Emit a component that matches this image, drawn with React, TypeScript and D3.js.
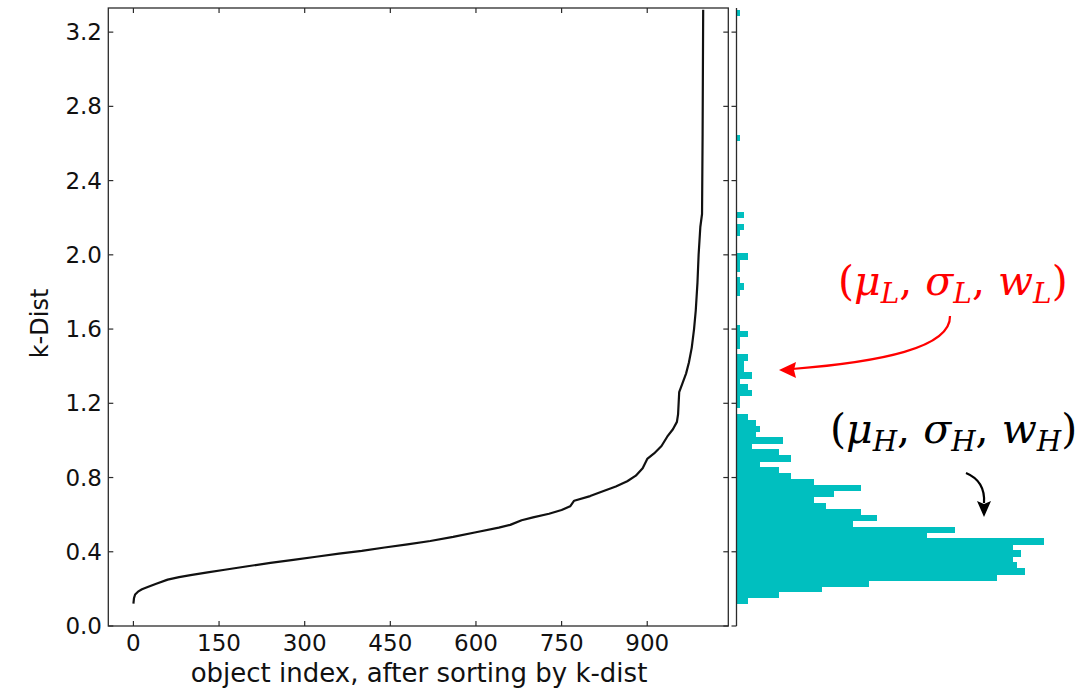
import React from "react";
import * as d3 from "d3";

// ---- data ----
const CURVE_INDEX = [0, 1, 3, 8, 15, 25, 40, 60, 80, 100, 130, 160, 200, 240, 280, 320, 360, 400, 440, 480, 520, 560, 600, 640, 660, 680, 700, 728, 750, 765, 772, 800, 820, 845, 865, 880, 892, 900, 912, 925, 935, 945, 952, 954, 956, 962, 968, 973, 978, 982, 985, 988, 990, 993, 996, 997, 998];
const CURVE_KDIST = [0.12, 0.15, 0.17, 0.185, 0.198, 0.21, 0.228, 0.25, 0.263, 0.274, 0.289, 0.303, 0.322, 0.34, 0.356, 0.373, 0.39, 0.405, 0.423, 0.44, 0.458, 0.48, 0.505, 0.53, 0.545, 0.57, 0.585, 0.605, 0.625, 0.645, 0.675, 0.7, 0.723, 0.752, 0.78, 0.81, 0.85, 0.9, 0.93, 0.97, 1.02, 1.06, 1.1, 1.14, 1.26, 1.31, 1.36, 1.42, 1.5, 1.6, 1.7, 1.85, 2.0, 2.15, 2.22, 2.65, 3.32];

const HIST_MIN = 0.12;
const HIST_BIN_WIDTH = 0.032;
const HIST_COUNTS = [
  3, 11, 22, 34, 67, 74, 72, 71, 73, 71, 79, 49, 56, 30, 36, 32, 23, 20, 25, 32, 20, 14, 11, 6, 14, 11, 4, 12, 5, 6, 5, 3,
  0, 1, 1, 4, 3, 1, 4, 2, 2, 3, 0, 1, 1, 3, 1,
  0, 0, 0, 0, 0,
  1, 2, 1, 0, 1, 1, 3,
  0, 0, 0,
  1, 2, 0, 2,
  0, 0, 0, 0, 0, 0, 0, 0, 0, 0, 0, 0,
  1,
  0, 0, 0, 0, 0, 0, 0, 0, 0, 0, 0, 0, 0, 0, 0, 0, 0, 0, 0, 0,
  1,
];

const X_TICKS = [0, 150, 300, 450, 600, 750, 900];
const Y_TICKS = [0, 0.4, 0.8, 1.2, 1.6, 2.0, 2.4, 2.8, 3.2];
const X_LABEL = "object index, after sorting by k-dist";
const Y_LABEL = "k-Dist";

export default function App() {
  const left = 108.3, right = 728.3, top = 8, bottom = 626;
  const x = d3.scaleLinear().domain([-44, 1042]).range([left, right]);
  const y = d3.scaleLinear().domain([0, 3.33]).range([bottom, top]);
  const hLeft = 736.5;
  const hx = d3.scaleLinear().domain([0, 79.2]).range([hLeft, 1045]);

  const pts: [number, number][] = CURVE_INDEX.map((d, i) => [d, CURVE_KDIST[i]]);
  const line = d3.line<[number, number]>().x((d) => x(d[0])).y((d) => y(d[1]))(pts) || "";

  const spine = "#2b2b2b";
  const tickFont = "'DejaVu Sans', sans-serif";

  return (
    <svg width={1084} height={688} style={{ position: "absolute", left: 0, top: 0, background: "#fff" }}>
      {/* histogram bars */}
      <g shapeRendering="crispEdges">
        {HIST_COUNTS.map((c, i) => {
          if (c === 0) return null;
          const lo = HIST_MIN + i * HIST_BIN_WIDTH;
          const hi = lo + HIST_BIN_WIDTH;
          return (
            <rect key={i} x={hx(0)} y={y(hi)} width={hx(c) - hx(0)} height={y(lo) - y(hi) + 0.6} fill="#00bfbf" />
          );
        })}
      </g>
      {/* histogram spine */}
      <line x1={hLeft} x2={hLeft} y1={top} y2={bottom} stroke={spine} strokeWidth={1.3} />
      {Y_TICKS.map((t) => (
        <line key={"hy" + t} x1={hLeft - 5} x2={hLeft} y1={y(t)} y2={y(t)} stroke={spine} strokeWidth={1.2} />
      ))}

      {/* main curve */}
      <path d={line} fill="none" stroke="#111" strokeWidth={2.2} strokeLinejoin="round" />

      {/* main frame */}
      <rect x={left} y={top} width={right - left} height={bottom - top} fill="none" stroke={spine} strokeWidth={1.3} />
      {X_TICKS.map((t) => (
        <g key={"x" + t}>
          <line x1={x(t)} x2={x(t)} y1={bottom} y2={bottom - 5} stroke={spine} strokeWidth={1.2} />
          <line x1={x(t)} x2={x(t)} y1={top} y2={top + 5} stroke={spine} strokeWidth={1.2} />
          <text x={x(t)} y={651} textAnchor="middle" fontFamily={tickFont} fontSize={23} fill="#111">
            {t}
          </text>
        </g>
      ))}
      {Y_TICKS.map((t) => (
        <g key={"y" + t}>
          <line x1={left} x2={left + 5} y1={y(t)} y2={y(t)} stroke={spine} strokeWidth={1.2} />
          <line x1={right - 5} x2={right} y1={y(t)} y2={y(t)} stroke={spine} strokeWidth={1.2} />
          <text x={102} y={y(t) + 8} textAnchor="end" fontFamily={tickFont} fontSize={23} fill="#111">
            {t.toFixed(1)}
          </text>
        </g>
      ))}
      <text x={419} y={682} textAnchor="middle" fontFamily={tickFont} fontSize={26} fill="#111">
        {X_LABEL}
      </text>
      <text transform={`translate(48, ${y(1.63)}) rotate(-90)`} textAnchor="middle" fontFamily={tickFont} fontSize={24} fill="#111">
        {Y_LABEL}
      </text>

      {/* annotations */}
      <text x={838} y={295} fontFamily="'DejaVu Serif', serif" fontSize={41} fill="#ff0000">
        <tspan>(</tspan>
        <tspan fontStyle="italic">μ</tspan>
        <tspan fontStyle="italic" fontSize={28} dy={8}>L</tspan>
        <tspan dy={-8}>, </tspan>
        <tspan fontStyle="italic">σ</tspan>
        <tspan fontStyle="italic" fontSize={28} dy={8}>L</tspan>
        <tspan dy={-8}>, </tspan>
        <tspan fontStyle="italic">w</tspan>
        <tspan fontStyle="italic" fontSize={28} dy={8}>L</tspan>
        <tspan dy={-8}>)</tspan>
      </text>
      <path d="M 950,316 C 951,348 880,362 792,369" fill="none" stroke="#ff0000" strokeWidth={2.2} />
      <polygon points="779,370 796,362 794,370 796,378" fill="#ff0000" />

      <text x={830} y={443} fontFamily="'DejaVu Serif', serif" fontSize={41} fill="#000">
        <tspan>(</tspan>
        <tspan fontStyle="italic">μ</tspan>
        <tspan fontStyle="italic" fontSize={28} dy={8}>H</tspan>
        <tspan dy={-8}>, </tspan>
        <tspan fontStyle="italic">σ</tspan>
        <tspan fontStyle="italic" fontSize={28} dy={8}>H</tspan>
        <tspan dy={-8}>, </tspan>
        <tspan fontStyle="italic">w</tspan>
        <tspan fontStyle="italic" fontSize={28} dy={8}>H</tspan>
        <tspan dy={-8}>)</tspan>
      </text>
      <path d="M 966,473 C 978,478 985,488 984,503" fill="none" stroke="#000" strokeWidth={2.2} />
      <polygon points="984,517 977,501 984,504 991,501" fill="#000" />
    </svg>
  );
}
